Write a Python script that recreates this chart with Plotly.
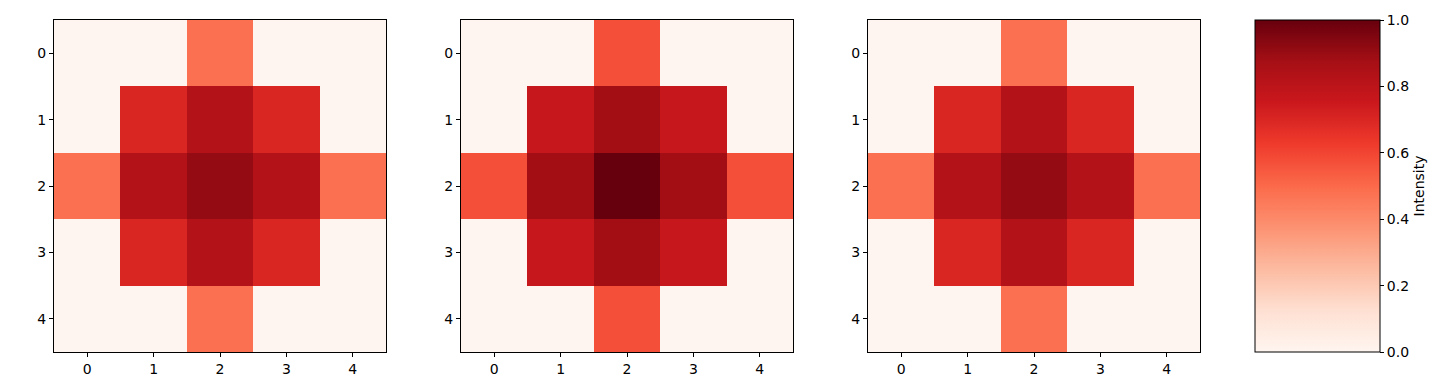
import plotly.graph_objects as go

ticks = [0, 1, 2, 3, 4]
tick_labels = ["0", "1", "2", "3", "4"]

panel1 = [
    [0.0, 0.0, 0.48, 0.0, 0.0],
    [0.0, 0.70, 0.83, 0.70, 0.0],
    [0.48, 0.83, 0.91, 0.83, 0.48],
    [0.0, 0.70, 0.83, 0.70, 0.0],
    [0.0, 0.0, 0.48, 0.0, 0.0],
]
panel2 = [
    [0.0, 0.0, 0.57, 0.0, 0.0],
    [0.0, 0.77, 0.88, 0.77, 0.0],
    [0.57, 0.88, 1.0, 0.88, 0.57],
    [0.0, 0.77, 0.88, 0.77, 0.0],
    [0.0, 0.0, 0.57, 0.0, 0.0],
]
panel3 = [
    [0.0, 0.0, 0.48, 0.0, 0.0],
    [0.0, 0.70, 0.83, 0.70, 0.0],
    [0.48, 0.83, 0.91, 0.83, 0.48],
    [0.0, 0.70, 0.83, 0.70, 0.0],
    [0.0, 0.0, 0.48, 0.0, 0.0],
]
panels = [panel1, panel2, panel3]

reds = ['rgb(255,245,240)', 'rgb(254,224,210)', 'rgb(252,187,161)', 'rgb(252,146,114)',
        'rgb(251,106,74)', 'rgb(239,59,44)', 'rgb(203,24,29)', 'rgb(165,15,21)', 'rgb(103,0,13)']
cscale = [[i / (len(reds) - 1), c] for i, c in enumerate(reds)]

W, H = 1445, 388
xdoms = [(54, 386), (461, 793), (868, 1200)]
y0, y1 = 1 - 352 / H, 1 - 20 / H

fig = go.Figure()
font = dict(family="DejaVu Sans", size=14, color="black")
for i, (z, (a, b)) in enumerate(zip(panels, xdoms)):
    xa = "x" if i == 0 else f"x{i+1}"
    ya = "y" if i == 0 else f"y{i+1}"
    fig.add_trace(go.Heatmap(
        z=z, x=ticks, y=ticks, colorscale=cscale, zmin=0, zmax=1,
        xaxis=xa, yaxis=ya, showscale=(i == 0), xgap=0, ygap=0,
        colorbar=dict(
            x=1255 / W, xanchor="left", y=y0, yanchor="bottom",
            len=y1 - y0, lenmode="fraction", thickness=125, thicknessmode="pixels",
            outlinecolor="black", outlinewidth=1,
            ticks="outside", ticklen=4, tickcolor="black", tickwidth=1,
            tickvals=[0, 0.2, 0.4, 0.6, 0.8, 1.0], ticktext=["0.0", "0.2", "0.4", "0.6", "0.8", "1.0"],
            tickfont=font,
            title=dict(text="Intensity", side="right", font=font),
            xpad=0, ypad=0,
        ),
    ))
    axcommon = dict(showline=True, mirror=True, linecolor="black", linewidth=1,
                    ticks="outside", ticklen=4, tickcolor="black", tickwidth=1,
                    showgrid=False, zeroline=False, tickfont=font,
                    tickvals=ticks, ticktext=tick_labels, fixedrange=True)
    key = "" if i == 0 else str(i + 1)
    fig.layout["xaxis" + key] = dict(domain=[a / W, b / W], range=[-0.5, 4.5],
                                     anchor=ya, **axcommon)
    fig.layout["yaxis" + key] = dict(domain=[y0, y1], range=[4.5, -0.5],
                                     anchor=xa, **axcommon)

fig.update_layout(width=W, height=H, margin=dict(l=0, r=0, t=0, b=0),
                  paper_bgcolor="white", plot_bgcolor="white", showlegend=False)
fig.write_html("out.html")
